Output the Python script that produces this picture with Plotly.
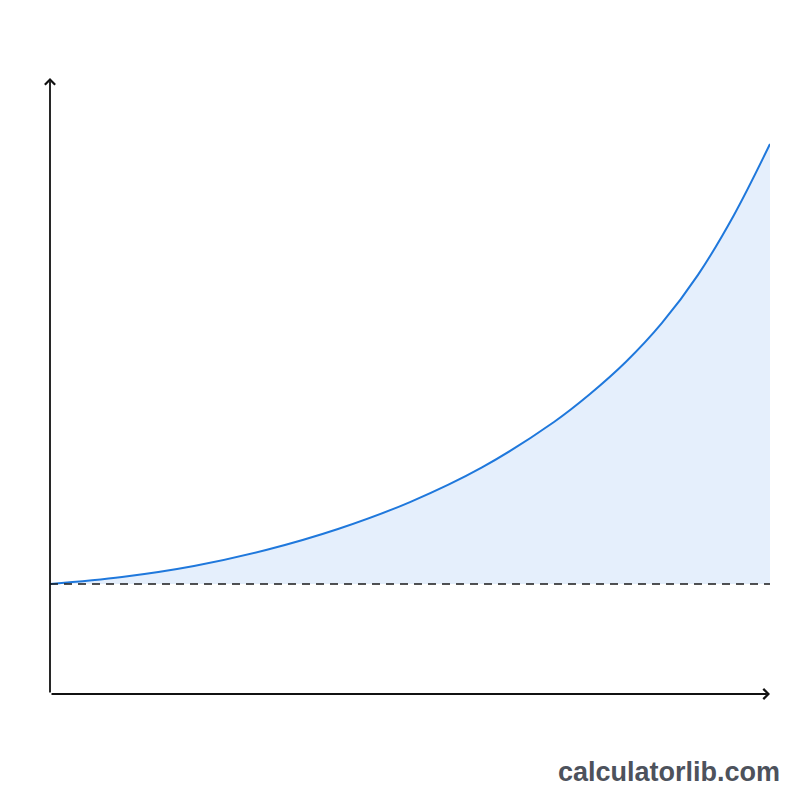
import plotly.graph_objects as go

# ---- data ----
years = [0, 1, 2, 3, 4, 5, 6, 7, 7.5, 8, 8.5, 9, 9.5, 10]
balance = [1000, 1064, 1164, 1309, 1500, 1745, 2060, 2473,
           2727, 3020, 3373, 3810, 4355, 5000]
principal = [1000] * len(years)

line_blue = "#1f78dc"
fill_blue = "#e5effc"
axis_col = "#111111"

fig = go.Figure()

# baseline (invisible) so the fill sits between curve and principal
fig.add_trace(go.Scatter(
    x=years, y=principal,
    mode="lines", line=dict(width=0, color="rgba(0,0,0,0)"),
    hoverinfo="skip", showlegend=False
))
fig.add_trace(go.Scatter(
    x=years, y=balance,
    mode="lines", line=dict(color=line_blue, width=2, shape="spline", smoothing=1),
    fill="tonexty", fillcolor=fill_blue,
    showlegend=False
))

# dashed principal line
fig.add_shape(
    type="line", xref="x", yref="y",
    x0=years[0], x1=years[-1], y0=principal[0], y1=principal[0],
    line=dict(color="#1a1a1a", width=1.6, dash="8px,6px")
)

# axes with arrow heads
fig.add_annotation(
    x=0, y=1, xref="paper", yref="paper",
    ax=0, ay=616, axref="pixel", ayref="pixel",
    showarrow=True, arrowhead=4, arrowsize=1.1, arrowwidth=1.8,
    arrowcolor=axis_col, text=""
)
fig.add_annotation(
    x=1, y=0, xref="paper", yref="paper",
    ax=-720, ay=0, axref="pixel", ayref="pixel",
    showarrow=True, arrowhead=4, arrowsize=1.1, arrowwidth=1.8,
    arrowcolor=axis_col, text=""
)

# watermark
fig.add_annotation(
    x=1, y=0, xref="paper", yref="paper",
    xshift=12, yshift=-78,
    xanchor="right", yanchor="middle",
    text="<b>calculatorlib.com</b>", showarrow=False,
    font=dict(family="Liberation Sans, Arial, sans-serif", size=27, color="#4d525c")
)

fig.update_xaxes(range=[0, 10], visible=False)
fig.update_yaxes(range=[0, 5600], visible=False)

# page body adds 8px, so margins are shifted to line up with the picture
fig.update_layout(
    width=800, height=800,
    margin=dict(l=42, r=38, t=70, b=114),
    plot_bgcolor="white",
    paper_bgcolor="white",
    showlegend=False
)

fig.write_html("out.html")
